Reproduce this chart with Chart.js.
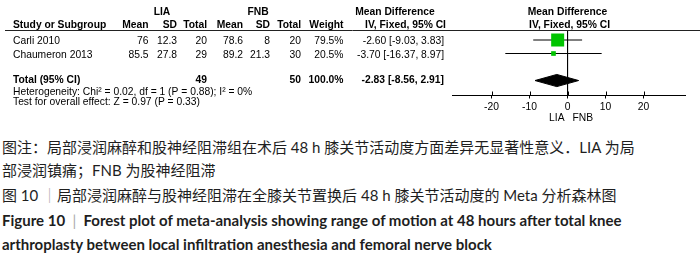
<!DOCTYPE html>
<html><head><meta charset="utf-8">
<script src="https://cdn.jsdelivr.net/npm/chart.js@4.4.1/dist/chart.umd.min.js"></script>
<style>
html,body{margin:0;padding:0;background:#fff;width:700px;height:263px;overflow:hidden;}
#wrap{position:absolute;left:0;top:0;width:700px;height:128px;}
.cap{position:absolute;left:2px;white-space:nowrap;font-family:"Lato","Noto Sans CJK SC",sans-serif;font-size:15px;color:#1e1e1e;transform-origin:0 50%;line-height:20px;}
.en{font-weight:bold;font-size:15px;}
.bar{color:#aaa;font-weight:normal;}
</style></head><body>
<div id="wrap"><canvas id="c" width="700" height="128"></canvas></div>
<div class="cap" id="l1" style="top:137px">图注：局部浸润麻醉和股神经阻滞组在术后 48 h 膝关节活动度方面差异无显著性意义．LIA 为局</div>
<div class="cap" id="l2" style="top:160px">部浸润镇痛；FNB 为股神经阻滞</div>
<div class="cap" id="l3" style="top:185px">图 10 <span class="bar">｜</span>局部浸润麻醉与股神经阻滞在全膝关节置换后 48 h 膝关节活动度的 Meta 分析森林图</div>
<div class="cap en" id="l4" style="top:210px">Figure 10 &nbsp;<span class="bar">|</span>&nbsp; Forest plot of meta-analysis showing range of motion at 48 hours after total knee</div>
<div class="cap en" id="l5" style="top:234px">arthroplasty between local infiltration anesthesia and femoral nerve block</div>
<script>
// ---- data ----
const studies = ['Carli 2010', 'Chaumeron 2013'];
const liaMean = [76, 85.5];
const liaSD = [12.3, 27.8];
const liaTotal = [20, 29];
const fnbMean = [78.6, 89.2];
const fnbSD = [8, 21.3];
const fnbTotal = [20, 30];
const weights = [79.5, 20.5];
const meanDiff = [-2.60, -3.70];
const ciLow = [-9.03, -16.37];
const ciHigh = [3.83, 8.97];
const totalN = [49, 50];
const totalMD = [-2.83, -8.56, 2.91]; // estimate, low, high
const xTicks = [-20, -10, 0, 10, 20];
const heterogeneity = 'Heterogeneity: Chi² = 0.02, df = 1 (P = 0.88); I² = 0%';
const overallTest = 'Test for overall effect: Z = 0.97 (P = 0.33)';

// ---- layout ----
const Y_MIN = -0.74, Y_MAX = 4.07;
const totalRow = studies.length + 1;
const DH = 0.45;
const fmt = v => v.toFixed(2);
const ciText = (m, l, h) => `${fmt(m)} [${fmt(l)}, ${fmt(h)}]`;

const datasets = [];
datasets.push({
  data: [{x: meanDiff[0], y: 0}, {x: meanDiff[1], y: 1}].map((p, i) => ({x: meanDiff[i], y: i})),
  pointStyle: 'rect', pointRadius: [9.2, 3.3], backgroundColor: '#00c400', borderWidth: 0, order: 0
});
datasets.push({
  data: [
    {x: totalMD[1], y: totalRow}, {x: totalMD[0], y: totalRow - DH},
    {x: totalMD[2], y: totalRow}, {x: totalMD[0], y: totalRow + DH},
    {x: totalMD[1], y: totalRow}
  ],
  showLine: true, fill: 'shape', backgroundColor: '#000', borderColor: '#000', borderWidth: 1,
  pointRadius: 0, tension: 0, order: 0
});
studies.forEach((s, i) => {
  datasets.push({
    data: [{x: ciLow[i], y: i}, {x: ciHigh[i], y: i}],
    showLine: true, borderColor: '#000', borderWidth: 1, pointRadius: 0, order: 2
  });
});
datasets.push({
  data: [{x: 0, y: Y_MIN}, {x: 0, y: Y_MAX}],
  showLine: true, borderColor: '#000', borderWidth: 1, pointRadius: 0, order: 3
});

const FONT = '"Liberation Sans", Arial, sans-serif';
const tablePlugin = {
  id: 'table',
  afterDraw(chart) {
    const ctx = chart.ctx, xs = chart.scales.x, ys = chart.scales.y, ca = chart.chartArea;
    ctx.save();
    ctx.fillStyle = '#000';
    const t = (str, px, py, align, bold) => {
      ctx.font = (bold ? 'bold ' : '') + '10.3px ' + FONT;
      ctx.textAlign = align; ctx.textBaseline = 'middle';
      ctx.fillText(String(str), px, py);
    };
    const x0 = xs.getPixelForValue(0);
    // header line
    ctx.strokeStyle = '#222'; ctx.lineWidth = 1;
    ctx.beginPath(); ctx.moveTo(5, 30.5); ctx.lineTo(700, 30.5); ctx.stroke();
    // crossing tick marks above axis
    ctx.strokeStyle = '#000';
    xTicks.forEach(v => {
      const px = Math.round(xs.getPixelForValue(v)) + 0.5;
      ctx.beginPath(); ctx.moveTo(px, ca.bottom - 3.5); ctx.lineTo(px, ca.bottom); ctx.stroke();
    });
    // group headers
    const hy = 11.7;
    t('LIA', 162, hy, 'center', true);
    t('FNB', 258, hy, 'center', true);
    t('Mean Difference', 395, hy, 'center', true);
    t('Mean Difference', x0, hy, 'center', true);
    // column headers
    const cy = 25.5;
    t('Study or Subgroup', 13, cy, 'left', true);
    t('Mean', 148.5, cy, 'right', true);
    t('SD', 177, cy, 'right', true);
    t('Total', 207, cy, 'right', true);
    t('Mean', 243, cy, 'right', true);
    t('SD', 270, cy, 'right', true);
    t('Total', 301, cy, 'right', true);
    t('Weight', 343.5, cy, 'right', true);
    t('IV, Fixed, 95% CI', 405.5, cy, 'center', true);
    t('IV, Fixed, 95% CI', x0 + 2, cy, 'center', true);
    // study rows
    studies.forEach((s, i) => {
      const py = ys.getPixelForValue(i) + 1.5;
      t(s, 13, py, 'left');
      t(liaMean[i], 148.5, py, 'right');
      t(liaSD[i], 177, py, 'right');
      t(liaTotal[i], 207, py, 'right');
      t(fnbMean[i], 243, py, 'right');
      t(fnbSD[i], 270, py, 'right');
      t(fnbTotal[i], 301, py, 'right');
      t(weights[i].toFixed(1) + '%', 343.5, py, 'right');
      t(ciText(meanDiff[i], ciLow[i], ciHigh[i]), 444, py, 'right');
    });
    // total row
    const ty = ys.getPixelForValue(totalRow) - 0.5;
    t('Total (95% CI)', 13, ty, 'left', true);
    t(totalN[0], 207, ty, 'right', true);
    t(totalN[1], 301, ty, 'right', true);
    t(weights.reduce((a, b) => a + b, 0).toFixed(1) + '%', 343.5, ty, 'right', true);
    t(ciText(totalMD[0], totalMD[1], totalMD[2]), 444, ty, 'right', true);
    t(heterogeneity, 13, ty + 12, 'left');
    t(overallTest, 13, ty + 22.5, 'left');
    // favours labels
    t('LIA', x0 - 3, 118, 'right');
    t('FNB', x0 + 5, 118, 'left');
    ctx.restore();
  }
};

new Chart(document.getElementById('c'), {
  type: 'scatter',
  data: {datasets},
  options: {
    responsive: false, animation: false, devicePixelRatio: 1,
    layout: {padding: {left: 452, right: 15, top: 30, bottom: 13}},
    plugins: {legend: {display: false}, tooltip: {enabled: false}},
    scales: {
      x: {
        type: 'linear', min: -30.4, max: 30.9,
        afterBuildTicks: s => { s.ticks = xTicks.map(v => ({value: v})); },
        afterFit: s => { s.height = 20; },
        grid: {drawOnChartArea: false, drawTicks: true, tickLength: 3.5, color: '#000', lineWidth: 1},
        border: {display: true, color: '#000', width: 1},
        ticks: {color: '#000', font: {family: FONT, size: 10.3}, padding: 2, maxRotation: 0, autoSkip: false,
                callback: v => String(v)}
      },
      y: {type: 'linear', display: false, reverse: true, min: Y_MIN, max: Y_MAX}
    }
  },
  plugins: [tablePlugin]
});

// fit caption lines to the reference widths
function fitCaps() {
  const targets = {l1: 693, l2: 228, l3: 664, l4: 640};
  let s4 = 1;
  Object.keys(targets).forEach(id => {
    const el = document.getElementById(id);
    const w = el.getBoundingClientRect().width;
    const s = targets[id] / w;
    if (id === 'l4') s4 = s;
    el.style.transform = `scaleX(${s})`;
  });
  document.getElementById('l5').style.transform = `scaleX(${s4})`;
}
if (document.fonts && document.fonts.ready) document.fonts.ready.then(fitCaps); else fitCaps();
fitCaps();
</script>
</body></html>
